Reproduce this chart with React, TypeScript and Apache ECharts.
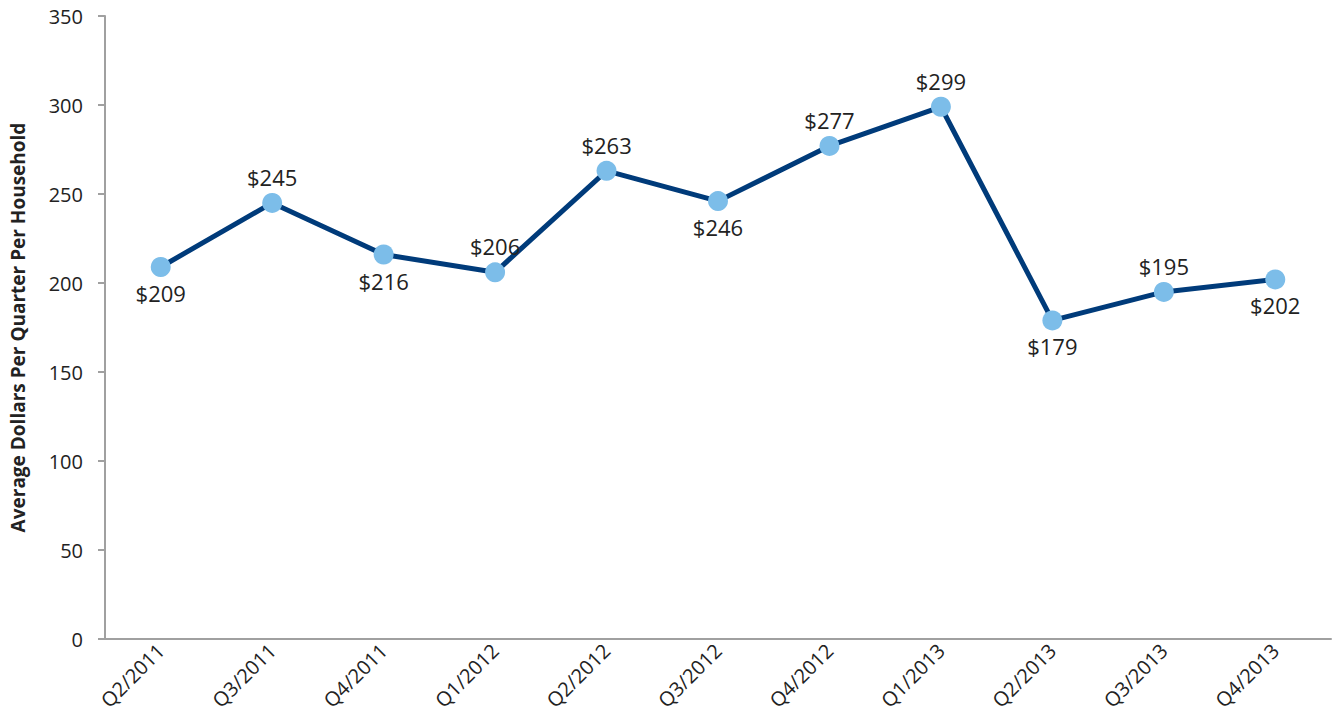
import React, { useEffect, useRef } from "react";
import * as echarts from "echarts";

const categories = [
  "Q2/2011", "Q3/2011", "Q4/2011", "Q1/2012", "Q2/2012", "Q3/2012",
  "Q4/2012", "Q1/2013", "Q2/2013", "Q3/2013", "Q4/2013",
];
const values = [209, 245, 216, 206, 263, 246, 277, 299, 179, 195, 202];
const labelPositions = [
  "bottom", "top", "bottom", "top", "top", "bottom",
  "top", "top", "bottom", "top", "bottom",
];
const yTicks = { min: 0, max: 350, interval: 50 };
const yTitle = "Average Dollars Per Quarter Per Household";

const FONT = "'Open Sans', 'Noto Sans', sans-serif";

export default function App() {
  const ref = useRef<HTMLDivElement>(null);
  useEffect(() => {
    if (!ref.current) return;
    const chart = echarts.init(ref.current, null, { renderer: "svg" });
    chart.setOption({
      animation: false,
      backgroundColor: "#ffffff",
      grid: { left: 104, right: 1, top: 16, bottom: 86, containLabel: false },
      xAxis: {
        type: "category",
        data: categories,
        boundaryGap: true,
        axisLine: { lineStyle: { color: "#a0a0a0", width: 2 } },
        axisTick: { show: false },
        axisLabel: {
          rotate: 45,
          color: "#222",
          fontFamily: FONT,
          fontSize: 20,
          margin: 8,
          interval: 0,
        },
        splitLine: { show: false },
      },
      yAxis: {
        type: "value",
        min: yTicks.min,
        max: yTicks.max,
        interval: yTicks.interval,
        name: yTitle,
        nameLocation: "middle",
        nameGap: 78,
        nameTextStyle: {
          fontFamily: FONT,
          fontSize: 19,
          fontWeight: "bold",
          color: "#222",
        },
        axisLine: { show: true, lineStyle: { color: "#a0a0a0", width: 2 } },
        axisTick: { show: true, length: 7, inside: false, lineStyle: { color: "#a0a0a0", width: 2 } },
        axisLabel: {
          color: "#222",
          fontFamily: FONT,
          fontSize: 20,
          margin: 22,
        },
        splitLine: { show: false },
      },
      series: [
        {
          type: "line",
          data: values.map((v, i) => ({
            value: v,
            label: { position: labelPositions[i] },
          })),
          symbol: "circle",
          symbolSize: 20,
          lineStyle: { color: "#003B7A", width: 5 },
          itemStyle: { color: "#7CBDE9", borderWidth: 0 },
          label: {
            show: true,
            formatter: (p: any) => "$" + p.value,
            fontFamily: FONT,
            fontSize: 22,
            color: "#222",
            distance: 5,
          },
          z: 3,
        },
      ],
    });
    return () => chart.dispose();
  }, []);
  return (
    <div
      ref={ref}
      style={{ position: "fixed", left: 0, top: 0, width: 1332, height: 725 }}
    />
  );
}
